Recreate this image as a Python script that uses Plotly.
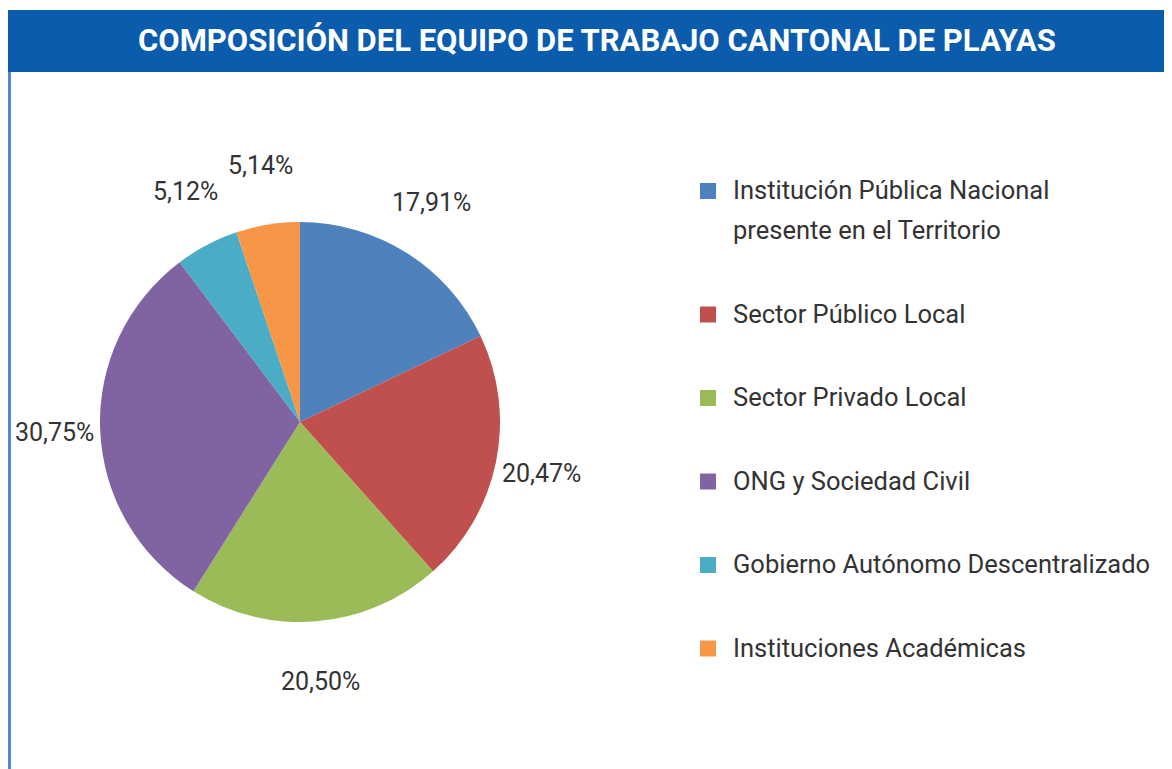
import math
import plotly.graph_objects as go

# ---- data ----
categories = [
    "Institución Pública Nacional presente en el Territorio",
    "Sector Público Local",
    "Sector Privado Local",
    "ONG y Sociedad Civil",
    "Gobierno Autónomo Descentralizado",
    "Instituciones Académicas",
]
legend_lines = [
    ["Institución Pública Nacional", "presente en el Territorio"],
    ["Sector Público Local"],
    ["Sector Privado Local"],
    ["ONG y Sociedad Civil"],
    ["Gobierno Autónomo Descentralizado"],
    ["Instituciones Académicas"],
]
values = [17.91, 20.47, 20.50, 30.75, 5.12, 5.14]
colors = ["#4f81bd", "#c0504d", "#9bbb59", "#8064a2", "#4bacc6", "#f79646"]
title = "COMPOSICIÓN DEL EQUIPO DE TRABAJO CANTONAL DE PLAYAS"

# page is offset by the 8px body margin of the html page
OFF = 8
W, H = 1172 - OFF, 769 - OFF
FONT = "Roboto, sans-serif"


def px(x):
    return (x - OFF) / W


def py(y):
    return 1 - (y - OFF) / H


labels_text = [f"{v:.2f}".replace(".", ",") + "%" for v in values]

CX, CY, R = 300, 422, 200

fig = go.Figure()
fig.add_trace(
    go.Pie(
        labels=categories,
        values=values,
        text=labels_text,
        textinfo="none",
        hovertemplate="%{label}: %{text}<extra></extra>",
        marker=dict(colors=colors, line=dict(width=0)),
        sort=False,
        direction="clockwise",
        rotation=0,
        showlegend=False,
        domain=dict(x=[px(CX - R), px(CX + R)], y=[py(CY + R), py(CY - R)]),
    )
)

shapes = [
    dict(type="rect", xref="paper", yref="paper", x0=0, x1=1, y0=py(72), y1=py(10),
         fillcolor="#0b5cad", line=dict(width=0), layer="below"),
    dict(type="line", xref="paper", yref="paper", x0=px(9.5), x1=px(9.5), y0=0, y1=py(72),
         line=dict(color="#4d8ad0", width=3)),
]
annotations = [
    dict(text=f"<b>{title}</b>", x=px(597), y=py(41), xref="paper", yref="paper",
         showarrow=False, xanchor="center", yanchor="middle",
         font=dict(family=FONT, size=31, color="white")),
]

# data labels placed outside each slice, at the slice's mid angle
total = sum(values)
cum = 0.0
LRX, LRY = 246, 260
for v, t in zip(values, labels_text):
    mid = (cum + v / 2) / total * 2 * math.pi
    cum += v
    lx = CX + LRX * math.sin(mid)
    ly = CY - LRY * math.cos(mid)
    annotations.append(dict(text=t, x=px(lx), y=py(ly), xref="paper", yref="paper",
                            showarrow=False, xanchor="center", yanchor="middle",
                            font=dict(family=FONT, size=25, color="#333333")))

# legend
y_cur = 190
for lines, col in zip(legend_lines, colors):
    shapes.append(dict(type="rect", xref="paper", yref="paper",
                       x0=px(700), x1=px(716), y0=py(y_cur + 9), y1=py(y_cur - 7),
                       fillcolor=col, line=dict(width=0)))
    for j, ln in enumerate(lines):
        annotations.append(dict(text=ln, x=px(731), y=py(y_cur + 40 * j), xref="paper",
                                yref="paper", showarrow=False, xanchor="left",
                                yanchor="middle",
                                font=dict(family=FONT, size=25.5, color="#333333")))
    y_cur += 40 * (len(lines) - 1) + 83.5

fig.update_layout(
    width=W,
    height=H,
    margin=dict(l=0, r=0, t=0, b=0),
    paper_bgcolor="white",
    plot_bgcolor="white",
    shapes=shapes,
    annotations=annotations,
)

fig.write_html("out.html")
